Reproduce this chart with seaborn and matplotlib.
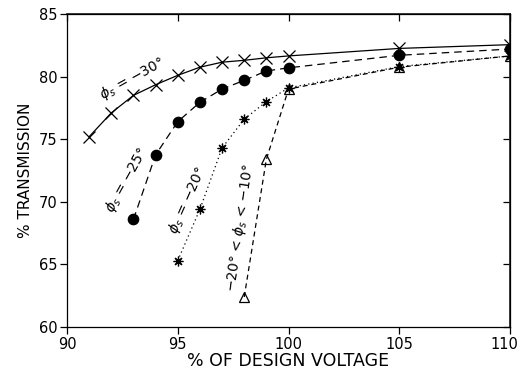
import numpy as np
import pandas as pd
import seaborn as sns
import matplotlib.pyplot as plt
from matplotlib.transforms import ScaledTranslation

sns.set_theme(style="ticks")
plt.rcParams["font.family"] = ["DejaVu Sans"]
plt.rcParams.update({"text.color": "black", "axes.labelcolor": "black",
                     "xtick.color": "black", "ytick.color": "black"})

# % of design voltage vs % transmission, one series per phase angle
x_30 = [91, 92, 93, 94, 95, 96, 97, 98, 99, 100, 105, 110]
y_30 = [75.2, 77.1, 78.5, 79.35, 80.1, 80.75, 81.15, 81.3, 81.5, 81.65, 82.25, 82.55]

x_25 = [93, 94, 95, 96, 97, 98, 99, 100, 105, 110]
y_25 = [68.6, 73.75, 76.4, 77.95, 79.0, 79.7, 80.45, 80.7, 81.7, 82.2]

x_20 = [95, 96, 97, 98, 99, 100, 105, 110]
y_20 = [65.3, 69.4, 74.3, 76.6, 78.0, 79.1, 80.8, 81.65]

x_10 = [98, 99, 100, 105, 110]
y_10 = [62.4, 73.4, 79.0, 80.75, 81.65]

labels = [r"$\phi_s$ = $-$30°", r"$\phi_s$ = $-$25°", r"$\phi_s$ = $-$20°",
          r"$-$20° < $\phi_s$ < $-$10°"]
xticks = [90, 95, 100, 105, 110]
yticks = [60, 65, 70, 75, 80, 85]

fig = plt.figure(figsize=(5.21, 3.81), dpi=100)
ax = fig.add_axes([0.1286, 0.1417, 0.979 - 0.1286, 0.9633 - 0.1417])

series = [
    (x_30, y_30, "x", "-", 8.5, dict(markerfacecolor="none")),
    (x_25, y_25, "o", (0, (6, 4)), 7.5, dict(markerfacecolor="black")),
    (x_20, y_20, (8, 2, 0), (0, (1, 2.5)), 7, dict()),
    (x_10, y_10, "^", (0, (4, 3)), 7.5, dict(markerfacecolor="none")),
]
for xs, ys, mk, ls, ms, extra in series:
    df = pd.DataFrame(dict(v=xs, t=ys))
    sns.lineplot(data=df, x="v", y="t", ax=ax, color="black", lw=0.9,
                 marker=mk, markersize=ms, markeredgecolor="black",
                 markeredgewidth=0.9, linestyle=ls, **extra)

# curve labels
ax.text(92.95, 79.85, labels[0], rotation=29, ha="center", va="center", fontsize=10)
ax.text(92.7, 71.7, labels[1], rotation=61, ha="center", va="center", fontsize=10)
ax.text(95.45, 70.1, labels[2], rotation=66, ha="center", va="center", fontsize=10)
ax.text(97.8, 67.9, labels[3], rotation=82, ha="center", va="center", fontsize=10)

ax.set_xlim(90, 110)
ax.set_ylim(60, 85)
ax.set_xticks(xticks)
ax.set_yticks(yticks)
ax.tick_params(axis="both", labelsize=10.5, direction="out", length=5,
               width=0.9, color="black", labelcolor="black", pad=2)
for s in ax.spines.values():
    s.set_visible(True)
    s.set_linewidth(0.9)
    s.set_color("black")

# inward ticks on top and right
top = ax.secondary_xaxis("top")
top.set_xticks(xticks)
top.tick_params(direction="in", length=5, width=0.9, color="black", labeltop=False)
right = ax.secondary_yaxis("right")
right.set_yticks(yticks)
right.tick_params(direction="in", length=5, width=0.9, color="black", labelright=False)

# keep the last x tick label inside the figure
last = ax.xaxis.get_major_ticks()[-1].label1
last.set_transform(last.get_transform() + ScaledTranslation(-0.06, 0, fig.dpi_scale_trans))

ax.set_xlabel("% OF DESIGN VOLTAGE", fontsize=12.5, labelpad=0)
ax.set_ylabel("% TRANSMISSION", fontsize=11, labelpad=4)

fig.savefig("out.png", dpi=100)
